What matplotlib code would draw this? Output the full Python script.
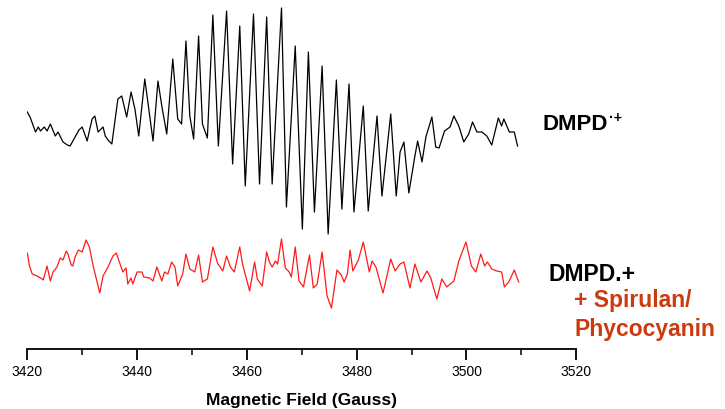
"""
EPR spectra of the DMPD radical cation, alone and with Spirulan/Phycocyanin.
"""

import matplotlib.pyplot as plt

plt.rcParams['font.family'] = ['Liberation Sans', 'DejaVu Sans']

# DMPD.+ alone: field (G) / intensity (a.u.), extrema
field_dmpd = [3420.0, 3420.5, 3421.5, 3422.0, 3422.4, 3423.1, 3423.6, 3424.2, 3425.1, 3425.6,
              3426.5, 3427.3, 3427.8, 3428.7, 3429.4, 3430.0, 3430.9, 3431.8, 3432.3, 3432.9,
              3433.8, 3434.2, 3434.7, 3435.4, 3436.5, 3437.2, 3438.1, 3438.9, 3439.6, 3440.3,
              3441.4, 3442.3, 3442.9, 3443.8, 3444.5, 3445.4, 3446.5, 3447.4, 3448.1, 3448.9,
              3449.6, 3450.3, 3451.2, 3451.9, 3452.8, 3453.8, 3454.8, 3456.3, 3457.4, 3458.7,
              3459.7, 3461.2, 3462.3, 3463.6, 3464.6, 3466.3, 3467.2, 3468.8, 3470.1, 3471.2,
              3472.3, 3473.7, 3474.8, 3476.3, 3477.3, 3478.6, 3479.5, 3481.2, 3482.1, 3483.7,
              3484.6, 3486.2, 3487.2, 3487.9, 3488.6, 3489.5, 3490.6, 3491.1, 3491.9, 3492.6,
              3493.7, 3494.4, 3495.0, 3496.0, 3497.0, 3497.7, 3498.6, 3499.5, 3500.4, 3501.1,
              3501.9, 3502.8, 3503.7, 3504.6, 3505.8, 3506.4, 3506.8, 3507.8, 3508.7, 3509.3]
int_dmpd = [1.5, 1.0, -0.5, 0.0, -0.4, 0.0, -0.4, 0.3, -0.9, -0.5,
            -1.5, -1.8, -1.9, -1.0, -0.3, 0.0, -1.4, 0.8, 1.1, -0.5,
            0.0, -0.9, -1.3, -1.7, 2.8, 3.1, 1.0, 3.5, 1.8, -0.9,
            4.8, 1.1, -1.4, 4.6, 2.1, -0.7, 6.8, 0.8, 0.3, 8.6,
            1.1, -1.2, 9.1, 0.3, -1.1, 11.2, -1.9, 11.6, -3.7, 10.1,
            -5.9, 11.3, -5.7, 11.0, -5.7, 11.9, -8.0, 8.1, -10.2, 7.5,
            -8.5, 6.1, -10.7, 4.7, -8.2, 4.3, -8.5, 2.1, -8.4, 1.1,
            -6.9, 1.3, -6.9, -2.5, -1.5, -6.6, -2.9, -1.4, -3.5, -1.0,
            1.0, -2.0, -2.1, -0.4, 0.0, 1.1, 0.1, -1.5, -0.7, 0.5,
            -0.5, -0.5, -0.9, -1.8, 0.9, 0.1, 0.8, -0.5, -0.5, -1.9]

# DMPD.+ + Spirulan/Phycocyanin
field_mix = [3420.0, 3420.4, 3420.9, 3421.8, 3422.7, 3422.9, 3423.6, 3424.2, 3424.7, 3425.4,
             3426.0, 3426.5, 3427.1, 3427.4, 3428.0, 3428.3, 3428.7, 3429.3, 3430.0, 3430.7,
             3431.3, 3432.0, 3433.2, 3433.8, 3434.7, 3435.6, 3436.2, 3436.9, 3437.4, 3438.0,
             3438.3, 3438.9, 3439.2, 3440.0, 3440.9, 3441.2, 3442.3, 3442.9, 3443.6, 3444.5,
             3445.0, 3445.6, 3446.3, 3446.9, 3447.4, 3448.3, 3448.9, 3449.6, 3450.5, 3451.2,
             3451.9, 3452.8, 3453.8, 3454.7, 3455.0, 3455.6, 3456.3, 3457.0, 3457.7, 3458.7,
             3459.2, 3460.5, 3461.4, 3461.9, 3462.8, 3463.6, 3464.1, 3464.6, 3465.2, 3465.6,
             3466.3, 3467.0, 3467.7, 3468.1, 3468.8, 3469.5, 3470.3, 3471.4, 3472.1, 3472.8,
             3473.7, 3474.6, 3475.4, 3476.4, 3477.2, 3477.7, 3478.3, 3478.8, 3479.3, 3480.3,
             3481.2, 3482.3, 3482.8, 3483.5, 3484.8, 3486.2, 3487.0, 3487.9, 3488.6, 3489.7,
             3490.6, 3491.7, 3492.8, 3493.5, 3494.6, 3495.5, 3496.4, 3497.7, 3498.6, 3499.9,
             3500.9, 3501.7, 3502.6, 3503.3, 3503.8, 3504.6, 3505.5, 3506.4, 3506.9, 3507.7,
             3508.7, 3509.5]
int_mix = [1.4, 0.1, -0.7, -0.9, -1.2, -1.3, 0.1, -1.4, -0.5, 0.0,
           0.9, 0.7, 1.6, 1.3, 0.2, 0.1, 1.0, 1.7, 1.5, 2.7,
           2.0, 0.1, -2.6, -0.9, 0.0, 1.1, 1.4, 0.3, -0.5, -0.1,
           -1.7, -1.1, -1.7, -0.5, -0.5, -1.0, -1.1, -1.4, 0.0, -1.4,
           -0.5, -0.7, 0.5, 0.0, -1.9, -0.7, 1.3, -0.2, -0.5, 1.2,
           -1.5, -1.2, 2.0, 0.3, 0.1, -0.4, 1.1, 0.0, -0.5, 2.0,
           0.3, -2.4, 0.5, -1.2, -1.9, 1.5, 0.5, 0.0, 0.6, 0.3,
           2.8, -0.1, -0.5, -1.0, 2.0, -1.4, -2.0, 1.2, -2.1, -1.7,
           1.5, -2.9, -4.1, -0.3, -0.8, -1.5, -0.7, 1.7, -0.4, 0.7,
           2.5, -0.5, 0.6, 0.0, -2.6, 0.8, -0.4, 0.3, 0.5, -2.1,
           0.3, -1.5, -0.4, -1.1, -3.2, -1.2, -2.0, -1.4, 0.6, 2.5,
           0.1, -0.5, 1.3, 0.1, 0.5, -0.2, -0.4, -0.5, -2.0, -1.5,
           -0.3, -1.5]

x_ticks = [3420, 3440, 3460, 3480, 3500, 3520]
x_minor = [3430, 3450, 3470, 3490, 3510]

# vertical stacking of the two spectra
offset_dmpd = -12.8
offset_mix = -26.8

fig = plt.figure(figsize=(7.25, 4.1), dpi=100)
ax = fig.add_axes([27.3 / 725, 60 / 410, 549 / 725, 350 / 410])

ax.plot(field_dmpd, [v + offset_dmpd for v in int_dmpd], color='black', lw=0.9)
ax.plot(field_mix, [v + offset_mix for v in int_mix], color='#ff1a1a', lw=0.9)

ax.set_xlim(3420, 3520)
ax.set_ylim(-35.0, 0.0)

for s in ['top', 'right', 'left']:
    ax.spines[s].set_visible(False)
ax.spines['bottom'].set_linewidth(1.3)
ax.set_yticks([])
ax.set_xticks(x_ticks)
ax.set_xticks(x_minor, minor=True)
ax.tick_params(axis='x', which='major', direction='out', length=8, width=1.3,
               labelsize=10, pad=3)
ax.tick_params(axis='x', which='minor', direction='out', length=4, width=1.1)
ax.set_xlabel('Magnetic Field (Gauss)', fontsize=12.5, fontweight='bold', labelpad=10)

# labels to the right of the spectra
fig.text(543 / 725, 1 - 130 / 410, 'DMPD', fontsize=16, fontweight='bold', va='baseline')
fig.text(609 / 725, 1 - 122 / 410, '\u00b7+', fontsize=10, fontweight='bold', va='baseline')
fig.text(549 / 725, 1 - 281 / 410, 'DMPD.+', fontsize=16.5, fontweight='bold', va='baseline')
fig.text(574 / 725, 1 - 307 / 410, '+ Spirulan/', fontsize=16.5, fontweight='bold',
         color='#cc3a0e', va='baseline')
fig.text(574 / 725, 1 - 336 / 410, 'Phycocyanin', fontsize=16.5, fontweight='bold',
         color='#cc3a0e', va='baseline')

fig.savefig('out.png', dpi=100)
